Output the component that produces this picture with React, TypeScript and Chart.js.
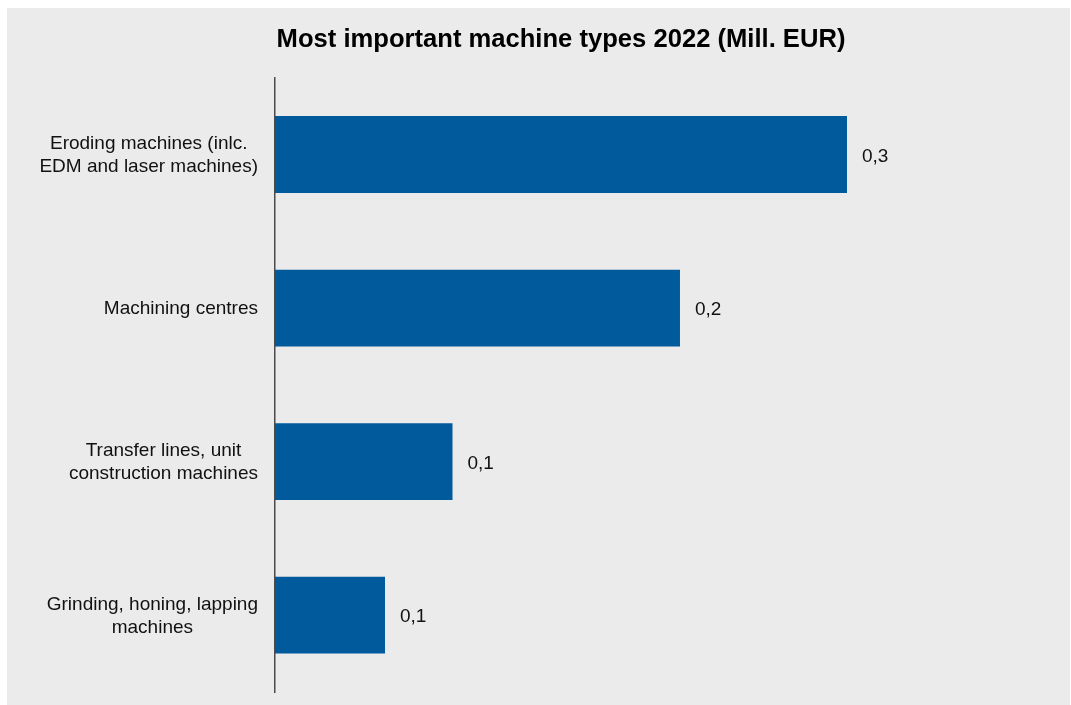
import React, { useEffect, useRef } from "react";
import { Chart, registerables } from "chart.js";

Chart.register(...registerables);

const categories: string[][] = [
  ["Eroding machines (inlc.", "EDM and laser machines)"],
  ["Machining centres"],
  ["Transfer lines, unit", "construction machines"],
  ["Grinding, honing, lapping", "machines"],
];
const values: number[] = [0.3, 0.2124, 0.0931, 0.0577];
const titleText = "Most important machine types 2022 (Mill. EUR)";

const FONT = "'Liberation Sans', Arial, Helvetica, sans-serif";
const BAR = "rgb(0,90,155)";
const BG = "#ebebeb";

const labelPlugin = {
  id: "customLabels",
  afterDatasetsDraw(chart: any) {
    const ctx = chart.ctx;
    const y = chart.scales.y;
    const area = chart.chartArea;
    const meta = chart.getDatasetMeta(0);
    ctx.save();
    ctx.fillStyle = "#111";
    ctx.font = `19px ${FONT}`;
    ctx.textBaseline = "middle";
    categories.forEach((lines, i) => {
      const cy = y.getPixelForValue(i);
      const widths = lines.map((l) => ctx.measureText(l).width);
      const maxW = Math.max(...widths);
      const cx = area.left - 17 - maxW / 2;
      const lh = 23;
      const y0 = cy - ((lines.length - 1) * lh) / 2 + 1;
      ctx.textAlign = "center";
      lines.forEach((l, k) => ctx.fillText(l, cx, y0 + k * lh));
    });
    ctx.textAlign = "left";
    meta.data.forEach((bar: any, i: number) => {
      const txt = values[i].toFixed(1).replace(".", ",");
      ctx.fillText(txt, bar.x + 15, bar.y + 2);
    });
    ctx.restore();
  },
};

export default function App() {
  const ref = useRef<HTMLCanvasElement | null>(null);
  useEffect(() => {
    if (!ref.current) return;
    const chart = new Chart(ref.current, {
      type: "bar",
      data: {
        labels: categories.map((c) => c.join(" ")),
        datasets: [
          {
            data: values,
            backgroundColor: BAR,
            borderWidth: 0,
            categoryPercentage: 1,
            barPercentage: 0.5,
          },
        ],
      },
      options: {
        indexAxis: "y",
        animation: false,
        responsive: true,
        maintainAspectRatio: false,
        layout: { padding: { left: 0, right: 223, top: 0, bottom: 13 } },
        plugins: {
          legend: { display: false },
          tooltip: { enabled: false },
          title: {
            display: true,
            text: titleText,
            fullSize: false,
            color: "#000",
            font: { family: FONT, size: 25.6, weight: "bold" },
            padding: { top: 17, bottom: 22 },
          },
        },
        scales: {
          x: {
            display: false,
            min: 0,
            max: Math.max(...values),
          },
          y: {
            grid: { display: false, drawTicks: false },
            border: { display: true, color: "#4a4a4a", width: 1.5 },
            ticks: { display: false },
            afterFit: (s: any) => {
              s.width = 268;
            },
          },
        },
      },
      plugins: [labelPlugin],
    });
    return () => chart.destroy();
  }, []);
  return (
    <div
      style={{
        position: "absolute",
        left: 7,
        top: 8,
        width: 1063,
        height: 697,
        background: BG,
      }}
    >
      <canvas ref={ref} />
    </div>
  );
}
